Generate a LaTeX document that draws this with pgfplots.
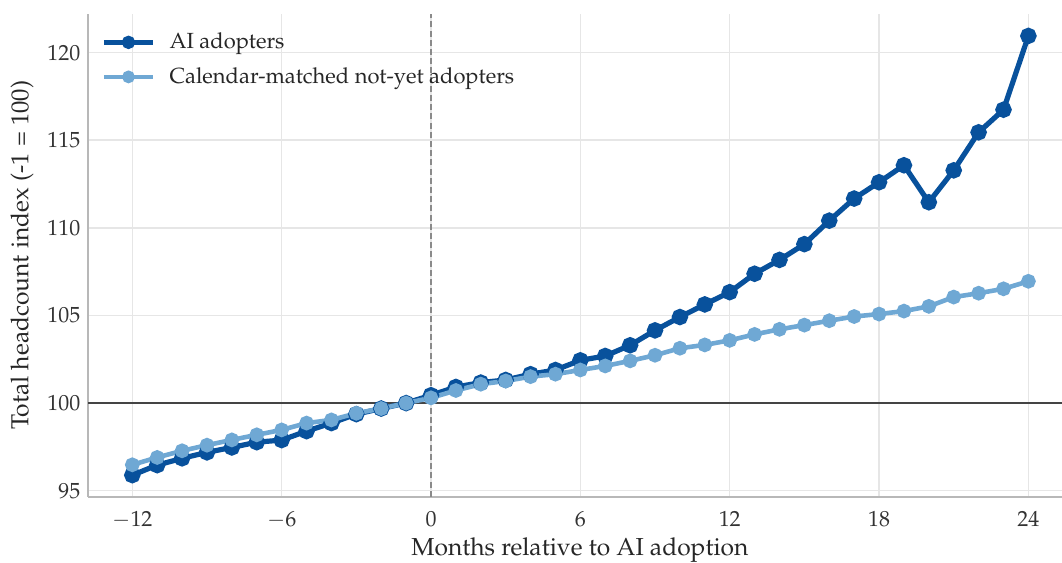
\documentclass[border=0pt,11pt]{standalone}
\usepackage[T1]{fontenc}
\usepackage{mathpazo}
\usepackage{pgfplots}
\pgfplotsset{compat=1.18}
\definecolor{darkblue}{HTML}{08519C}
\definecolor{lightblue}{HTML}{6FA8D4}
\definecolor{gridgray}{HTML}{E6E6E6}
\definecolor{spinegray}{HTML}{B8B8B8}
\definecolor{hlinegray}{HTML}{444444}
\definecolor{vlinegray}{HTML}{8A8A8A}
\pgfplotstableread{
x y
-12 95.89
-11 96.46
-10 96.85
-9 97.19
-8 97.47
-7 97.77
-6 97.89
-5 98.40
-4 98.86
-3 99.37
-2 99.69
-1 100.00
0 100.45
1 100.92
2 101.17
3 101.32
4 101.65
5 101.89
6 102.44
7 102.69
8 103.30
9 104.15
10 104.91
11 105.63
12 106.33
13 107.38
14 108.17
15 109.07
16 110.41
17 111.67
18 112.60
19 113.57
20 111.46
21 113.28
22 115.45
23 116.74
24 120.95
}\adopters
\pgfplotstableread{
x y
-12 96.48
-11 96.90
-10 97.28
-9 97.60
-8 97.90
-7 98.19
-6 98.47
-5 98.86
-4 99.04
-3 99.42
-2 99.69
-1 100.00
0 100.30
1 100.72
2 101.08
3 101.26
4 101.51
5 101.65
6 101.89
7 102.12
8 102.41
9 102.73
10 103.13
11 103.32
12 103.58
13 103.92
14 104.21
15 104.45
16 104.70
17 104.94
18 105.08
19 105.25
20 105.52
21 106.05
22 106.27
23 106.52
24 106.95
}\notyet
\newcommand{\labfont}{\fontsize{12.3}{14.8}\selectfont}
\begin{document}
\begin{tikzpicture}
\begin{axis}[
  at={(44pt,33.15pt)}, anchor=south west,
  scale only axis, width=487pt, height=241.35pt,
  xmin=-13.78, xmax=25.35, ymin=94.66, ymax=122.2,
  xtick={-12,-6,0,6,12,18,24},
  ytick={95,100,105,110,115,120},
  axis lines*=left,
  axis line style={draw=spinegray, line width=1pt, -},
  grid=major,
  grid style={draw=gridgray, line width=0.75pt},
  major tick length=0pt,
  tick label style={text=black!80},
  xticklabel style={yshift=-3.5pt},
  xlabel={Months relative to AI adoption},
  ylabel={Total headcount index (-1 = 100)},
  xlabel style={at={(axis description cs:0.505,-0.111)}, anchor=center, text=black!85, font=\labfont},
  ylabel style={at={(axis description cs:-0.0678,0.5)}, anchor=center, rotate=0, text=black!85, font=\labfont},
  legend style={at={(axis description cs:0,1)}, anchor=north west, xshift=3.5pt, yshift=-5.2pt,
    draw=none, fill=none, row sep=3.7pt, text=black!85},
  legend cell align=left,
  legend image code/.code={\draw[mark repeat=2,mark phase=2,#1,mark size=2pt] plot coordinates {(0pt,0pt) (12.25pt,0pt) (24.5pt,0pt)}; \path (29.5pt,0pt);},
]
\addplot[forget plot, draw=hlinegray, line width=1pt] coordinates {(-13.78,100) (25.35,100)};
\addplot[forget plot, draw=vlinegray, line width=0.8pt, dash pattern=on 3pt off 1.6pt] coordinates {(0,94.66) (0,122.2)};
\addplot[darkblue, line width=2.6pt, mark=*, mark size=2.8pt, mark options={solid, fill=darkblue, draw=none}] table {\adopters};
\addlegendentry{AI adopters}
\addplot[lightblue, line width=2.3pt, mark=*, mark size=2.5pt, mark options={solid, fill=lightblue, draw=none}] table {\notyet};
\addlegendentry{Calendar-matched not-yet adopters}
\end{axis}
\pgfresetboundingbox
\path[use as bounding box] (0,0) rectangle (531pt,281.5pt);
\end{tikzpicture}
\end{document}
